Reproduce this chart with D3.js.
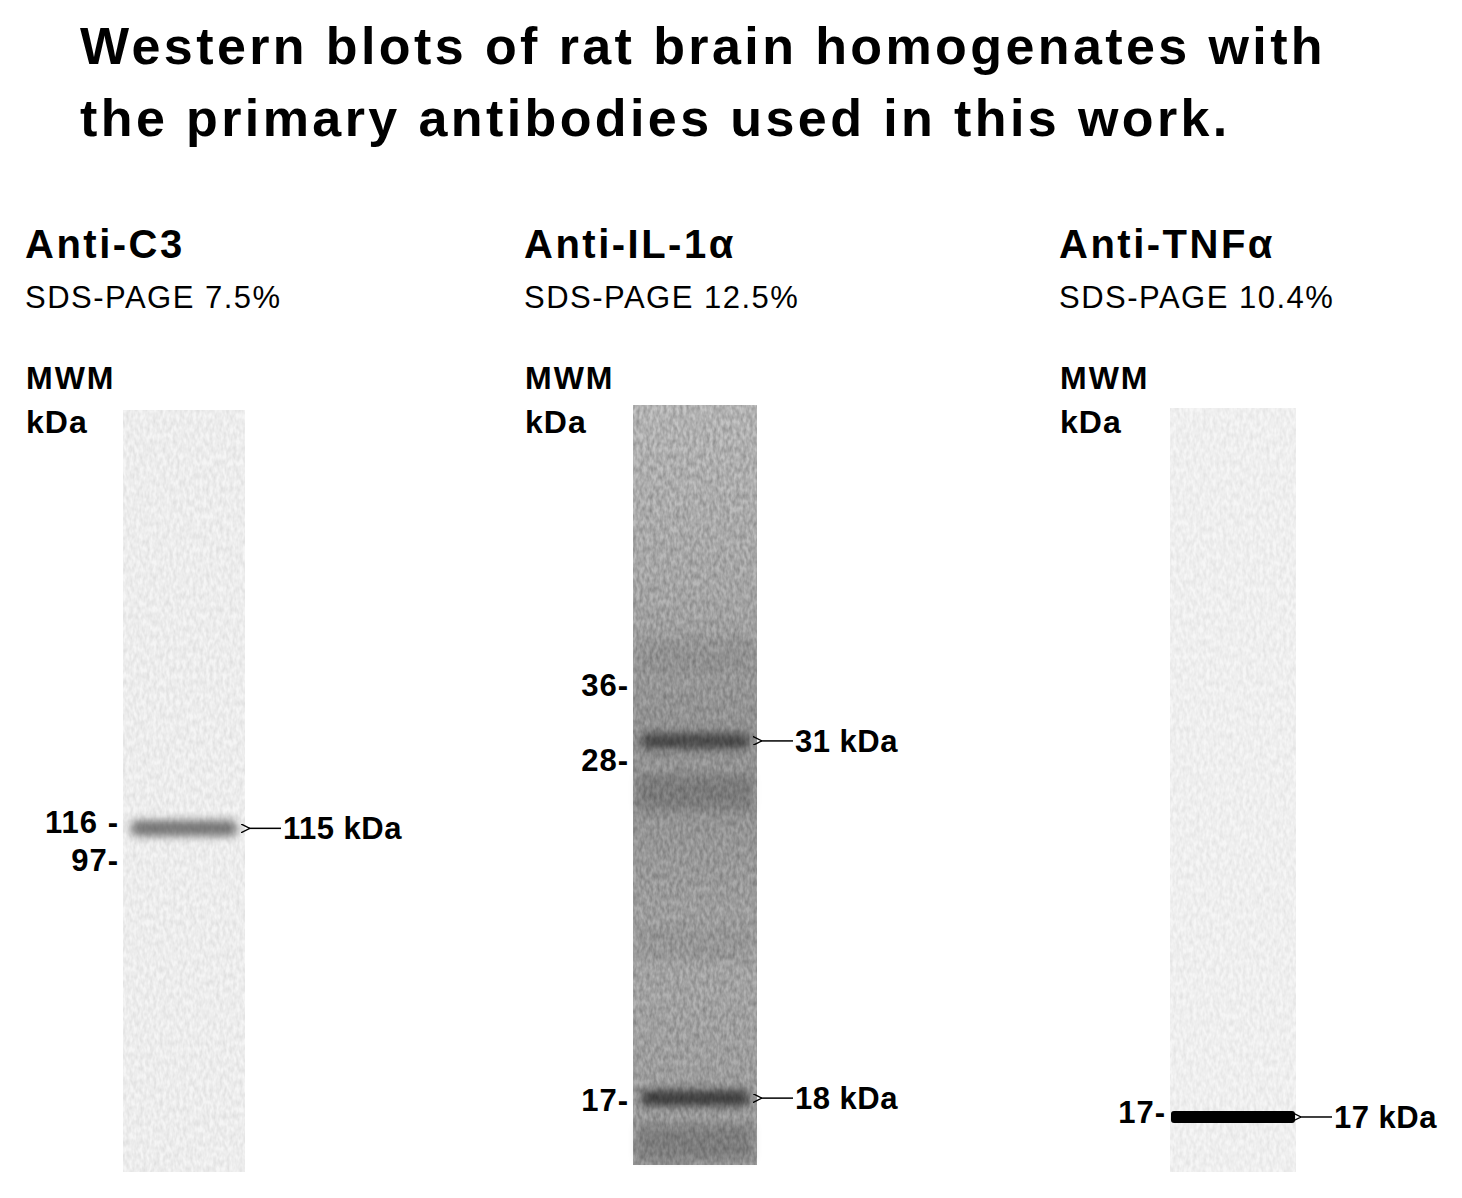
<!DOCTYPE html>
<html><head><meta charset="utf-8">
<script src="https://cdn.jsdelivr.net/npm/d3@7"></script>
<style>body{margin:0;background:#fff}svg{display:block;font-family:Arial,"Liberation Sans",sans-serif}</style>
</head><body><svg width="1462" height="1198"></svg>
<script>
'use strict';

const titleLines = ['Western blots of rat brain homogenates with', 'the primary antibodies used in this work.'];
const panelNames = ['Anti-C3', 'Anti-IL-1\u03b1', 'Anti-TNF\u03b1'];
const gelLabels = ['SDS-PAGE 7.5%', 'SDS-PAGE 12.5%', 'SDS-PAGE 10.4%'];
// marker ladders: label and relative mobility (fraction of lane length)
const markerText = [['116 -', '97-'], ['36-', '28-', '17-'], ['17-']];
const markerRf = [[0.541, 0.591], [0.368, 0.467, 0.914], [0.921]];
// detected bands: kDa, relative mobility, darkness 0..1
const bandKda = [[115], [31, 18], [17]];
const bandRf = [[0.549], [0.442, 0.912], [0.928]];
const bandDark = [[0.5], [0.5, 0.6], [1.0]];
// diffuse smears in lane 2 (relative mobility, darkness)
const smearRf = [[], [0.51, 0.97, 0.71, 0.33], []];
const smearDark = [[], [0.45, 0.5, 0.15, 0.15], []];
const laneTone = ['#f5f5f5', '#a9a9a9', '#f6f6f6'];
const noiseOpacity = [0.35, 1, 0.3];

const svg = d3.select('svg');
const defs = svg.append('defs');
defs.append('filter').attr('id', 'blur').attr('x', '-20%').attr('y', '-200%').attr('width', '140%').attr('height', '500%')
  .append('feGaussianBlur').attr('stdDeviation', '5 4');
const nf = defs.append('filter').attr('id', 'noise');
nf.append('feTurbulence').attr('type', 'fractalNoise').attr('baseFrequency', '0.3 0.15').attr('numOctaves', 2).attr('seed', 3);
nf.append('feColorMatrix').attr('type', 'matrix')
  .attr('values', '0 0 0 0 0  0 0 0 0 0  0 0 0 0 0  0 0 0 0.4 -0.1');
nf.append('feComposite').attr('in2', 'SourceGraphic').attr('operator', 'in');
const mk = defs.append('marker').attr('id', 'ah').attr('viewBox', '0 0 10 10').attr('refX', 1).attr('refY', 5)
  .attr('markerWidth', 9).attr('markerHeight', 9).attr('markerUnits', 'userSpaceOnUse').attr('orient', 'auto-start-reverse');
mk.append('path').attr('d', 'M10,0 L0,5 L10,10').attr('fill', 'none').attr('stroke', '#000').attr('stroke-width', 1.5);

svg.selectAll('text.title').data(titleLines).join('text')
  .attr('x', 80).attr('y', (d, i) => 64 + i * 72).attr('letter-spacing', 3.4)
  .attr('font-size', 52).attr('font-weight', 'bold').text(d => d);

const panelX = [25, 524, 1059];
const laneX = [123, 633, 1170];
const laneW = [122, 124, 126];
const laneTop = [410, 405, 408];
const laneBot = [1172, 1165, 1172];

panelNames.forEach((name, p) => {
  const g = svg.append('g');
  const x0 = panelX[p];
  g.append('text').attr('x', x0).attr('y', 258).attr('font-size', 40).attr('letter-spacing', 2.5).attr('font-weight', 'bold').text(name);
  g.append('text').attr('x', x0).attr('y', 308).attr('font-size', 31).attr('letter-spacing', 1.5).text(gelLabels[p]);
  g.append('text').attr('x', x0 + 1).attr('y', 389).attr('font-size', 32).attr('letter-spacing', 2).attr('font-weight', 'bold').text('MWM');
  g.append('text').attr('x', x0 + 1).attr('y', 433).attr('font-size', 32).attr('letter-spacing', 1).attr('font-weight', 'bold').text('kDa');

  const y = d3.scaleLinear().domain([0, 1]).range([laneTop[p], laneBot[p]]);
  const lx = laneX[p], lw = laneW[p];
  g.append('rect').attr('x', lx).attr('y', laneTop[p]).attr('width', lw)
    .attr('height', laneBot[p] - laneTop[p]).attr('fill', laneTone[p]);
  if (p === 1) {
    const gr = defs.append('linearGradient').attr('id', 'lane2').attr('x1', 0).attr('y1', 0).attr('x2', 0).attr('y2', 1);
    [[0, '#c6c6c6'], [0.25, '#b6b6b6'], [0.4, '#a2a2a2'], [0.55, '#a4a4a4'], [0.75, '#b4b4b4'], [1, '#a8a8a8']]
      .forEach(s => gr.append('stop').attr('offset', s[0]).attr('stop-color', s[1]));
    g.append('rect').attr('x', lx).attr('y', laneTop[p]).attr('width', lw)
      .attr('height', laneBot[p] - laneTop[p]).attr('fill', 'url(#lane2)');
  }
  smearRf[p].forEach((r, i) => {
    g.append('rect').attr('x', lx + 4).attr('y', Math.max(laneTop[p], y(r) - 18)).attr('width', lw - 8)
      .attr('height', Math.min(36, laneBot[p] - y(r) + 18))
      .attr('fill', '#000').attr('opacity', smearDark[p][i] * 0.35).attr('filter', 'url(#blur)');
  });
  bandRf[p].forEach((r, i) => {
    const dark = bandDark[p][i];
    const h = dark > 0.9 ? 12 : 16;
    g.append('rect').attr('x', lx + (dark > 0.9 ? 1 : 8)).attr('y', y(r) - h / 2)
      .attr('width', lw - (dark > 0.9 ? 2 : 16)).attr('height', h).attr('rx', dark > 0.9 ? 3 : 6)
      .attr('fill', '#000').attr('opacity', dark).attr('filter', dark > 0.9 ? null : 'url(#blur)');
  });
  g.append('rect').attr('x', lx).attr('y', laneTop[p]).attr('width', lw)
    .attr('height', laneBot[p] - laneTop[p]).attr('fill', '#555')
    .attr('opacity', noiseOpacity[p]).attr('filter', 'url(#noise)');

  g.selectAll('text.mk').data(markerRf[p]).join('text')
    .attr('x', lx - 4).attr('y', d => y(d) + 11).attr('text-anchor', 'end').attr('letter-spacing', 1)
    .attr('font-size', 31).attr('font-weight', 'bold').text((d, i) => markerText[p][i]);

  bandRf[p].forEach((r, i) => {
    const ax = lx + lw + 4, ay = y(r);
    g.append('line').attr('x1', ax).attr('x2', ax + 32).attr('y1', ay).attr('y2', ay)
      .attr('stroke', '#000').attr('stroke-width', 1.5).attr('marker-start', 'url(#ah)');
    g.append('text').attr('x', ax + 34).attr('y', ay + 11).attr('font-size', 31).attr('font-weight', 'bold')
      .attr('letter-spacing', 0.5).text(bandKda[p][i] + ' kDa');
  });
});
</script></body></html>
